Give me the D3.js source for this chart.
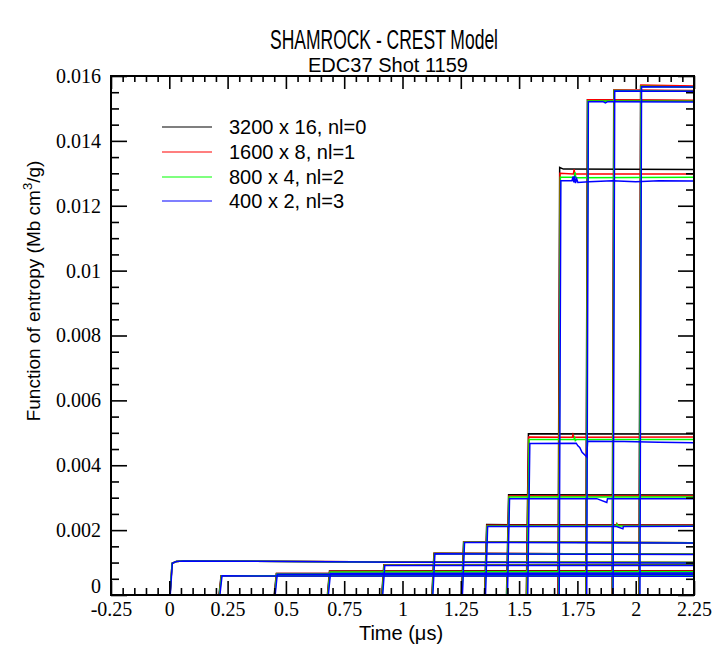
<!DOCTYPE html>
<html><head><meta charset="utf-8">
<script src="https://cdn.jsdelivr.net/npm/d3@7"></script>
<style>body{margin:0;background:#fff}svg{display:block}</style>
</head><body><svg id="c" width="716" height="645"></svg>
<script>
const titleText = "SHAMROCK - CREST Model";
const subtitleText = "EDC37 Shot 1159";
const xLabel = "Time (\u03bcs)";
const seriesLabels = ["3200 x 16, nl=0", "1600 x 8, nl=1", "800 x 4, nl=2", "400 x 2, nl=3"];
const seriesColors = ["#000000", "#ff0000", "#00ff00", "#0000ff"];
const xTicks = [-0.25, 0, 0.25, 0.5, 0.75, 1, 1.25, 1.5, 1.75, 2, 2.25];
const xTickLabels = ["-0.25", "0", "0.25", "0.5", "0.75", "1", "1.25", "1.5", "1.75", "2", "2.25"];
const yTicks = [0, 0.002, 0.004, 0.006, 0.008, 0.01, 0.012, 0.014, 0.016];
const yTickLabels = ["0", "0.002", "0.004", "0.006", "0.008", "0.01", "0.012", "0.014", "0.016"];

// each curve: [time (us), value] points
const curves3200 = [
  [[0,0],[0.003,0],[0.012,0.00098],[0.03,0.00103],[0.06,0.00105],[1.0,0.00102],[2.25,0.00100]],
  [[0,0],[0.213,0],[0.222,0.000595],[2.25,0.00059]],
  [[0,0],[0.450,0],[0.459,0.00066],[2.25,0.00066]],
  [[0,0],[0.678,0],[0.687,0.00074],[2.25,0.00075]],
  [[0,0],[0.911,0],[0.920,0.00093],[2.25,0.00093]],
  [[0,0],[1.126,0],[1.135,0.00129],[2.25,0.00126]],
  [[0,0],[1.253,0],[1.262,0.00164],[2.25,0.00161]],
  [[0,0],[1.352,0],[1.361,0.00217],[2.25,0.00216]],
  [[0,0],[1.446,0],[1.455,0.00309],[2.25,0.00308]],
  [[0,0],[1.531,0],[1.540,0.00497],[2.25,0.00496]],
  [[0,0],[1.667,0],[1.674,0.01318],[1.69,0.01313],[2.25,0.01312]],
  [[0,0],[1.786,0],[1.793,0.01527],[2.25,0.01524]],
  [[0,0],[1.899,0],[1.906,0.01556],[2.25,0.01554]],
  [[0,0],[2.014,0],[2.021,0.01569],[2.25,0.01567]]
];
const curves1600 = [
  [[0,0],[0.003,0],[0.012,0.00098],[0.03,0.00103],[0.06,0.00105],[1.0,0.00102],[2.25,0.00100]],
  [[0,0],[0.214,0],[0.223,0.000595],[2.25,0.00059]],
  [[0,0],[0.451,0],[0.460,0.00066],[2.25,0.00066]],
  [[0,0],[0.679,0],[0.688,0.00073],[2.25,0.00074]],
  [[0,0],[0.912,0],[0.921,0.00093],[2.25,0.00092]],
  [[0,0],[1.127,0],[1.136,0.00129],[2.25,0.00126]],
  [[0,0],[1.254,0],[1.263,0.00164],[2.25,0.00161]],
  [[0,0],[1.353,0],[1.362,0.00215],[1.916,0.00215],[1.919,0.00220],[1.922,0.00215],[2.25,0.00215]],
  [[0,0],[1.447,0],[1.456,0.00305],[2.25,0.00305]],
  [[0,0],[1.532,0],[1.541,0.00487],[1.728,0.00486],[1.731,0.00494],[1.734,0.00486],[2.25,0.00487]],
  [[0,0],[1.668,0],[1.675,0.01300],[1.733,0.01298],[1.736,0.01312],[1.739,0.01298],[2.25,0.01298]],
  [[0,0],[1.787,0],[1.794,0.01527],[2.25,0.01525]],
  [[0,0],[1.900,0],[1.907,0.01557],[2.25,0.01555]],
  [[0,0],[2.015,0],[2.022,0.01572],[2.25,0.01569]]
];
const curves800 = [
  [[0,0],[0.003,0],[0.012,0.00098],[0.03,0.00103],[0.06,0.00105],[1.0,0.00101],[2.25,0.00100]],
  [[0,0],[0.215,0],[0.224,0.000595],[2.25,0.00059]],
  [[0,0],[0.452,0],[0.461,0.00065],[2.25,0.00065]],
  [[0,0],[0.680,0],[0.689,0.00071],[2.25,0.00072]],
  [[0,0],[0.913,0],[0.922,0.00092],[2.25,0.00092]],
  [[0,0],[1.128,0],[1.137,0.00128],[2.25,0.00126]],
  [[0,0],[1.255,0],[1.264,0.00163],[2.25,0.00161]],
  [[0,0],[1.354,0],[1.363,0.00213],[1.917,0.00213],[1.920,0.00218],[1.923,0.00213],[2.25,0.00213]],
  [[0,0],[1.448,0],[1.457,0.00302],[2.25,0.00302]],
  [[0,0],[1.534,0],[1.543,0.00479],[1.735,0.00479],[1.738,0.00485],[1.741,0.00476],[1.745,0.00479],[2.25,0.00479]],
  [[0,0],[1.670,0],[1.677,0.01288],[1.737,0.01288],[1.740,0.01303],[1.743,0.01286],[2.25,0.01288]],
  [[0,0],[1.788,0],[1.795,0.01523],[2.25,0.01522]],
  [[0,0],[1.901,0],[1.908,0.01555],[2.25,0.01553]],
  [[0,0],[2.016,0],[2.023,0.01568],[2.25,0.01566]]
];
const curves400 = [
  [[0,0],[0.004,0],[0.013,0.00098],[0.03,0.00103],[0.06,0.00105],[1.0,0.00101],[2.25,0.00099]],
  [[0,0],[0.217,0],[0.226,0.00059],[2.25,0.00058]],
  [[0,0],[0.454,0],[0.463,0.00064],[2.25,0.00064]],
  [[0,0],[0.682,0],[0.691,0.00066],[2.25,0.00068]],
  [[0,0],[0.915,0],[0.924,0.00091],[2.25,0.00091]],
  [[0,0],[1.130,0],[1.139,0.00127],[2.25,0.00125]],
  [[0,0],[1.257,0],[1.266,0.00162],[2.25,0.00160]],
  [[0,0],[1.356,0],[1.365,0.00211],[1.918,0.00211],[1.945,0.00204],[1.947,0.00211],[2.25,0.00212]],
  [[0,0],[1.450,0],[1.459,0.00297],[1.833,0.00297],[1.876,0.00285],[1.879,0.00297],[2.25,0.00297]],
  [[0,0],[1.537,0],[1.546,0.00467],[1.745,0.00468],[1.752,0.00460],[1.760,0.00455],[1.770,0.00440],[1.790,0.00426],[1.794,0.00474],[1.95,0.00473],[2.1,0.00471],[2.25,0.00469]],
  [[0,0],[1.672,0],[1.679,0.01277],[1.727,0.01277],[1.731,0.01290],[1.735,0.01272],[1.738,0.01292],[1.742,0.01270],[1.747,0.01283],[1.752,0.01272],[1.80,0.01274],[1.9,0.01277],[2.0,0.01274],[2.1,0.01277],[2.25,0.01276]],
  [[0,0],[1.790,0],[1.797,0.01521],[1.86,0.01521],[1.87,0.01517],[1.88,0.01521],[2.25,0.01520]],
  [[0,0],[1.903,0],[1.910,0.01554],[2.25,0.01553]],
  [[0,0],[2.018,0],[2.025,0.01567],[2.25,0.01566]]
];
const allSeries = [curves3200, curves1600, curves800, curves400];

const SERIF = "'Liberation Serif', 'Times New Roman', 'DejaVu Serif', serif";
const SANS = "'Liberation Sans', Arial, sans-serif";

const svg = d3.select("#c");
const L = 111, R = 694, T = 76, B = 595;
const x = d3.scaleLinear().domain([-0.25, 2.25]).range([L, R]);
const y = d3.scaleLinear().domain([0, 0.016]).range([B, T]);

svg.append("defs").append("clipPath").attr("id", "clip")
  .append("rect").attr("x", L).attr("y", T).attr("width", R - L).attr("height", B - T);

// titles
svg.append("text").style("font-family", SANS).attr("x", 384).attr("y", 49).attr("text-anchor", "middle")
  .style("font-size", "27px").attr("textLength", 228).attr("lengthAdjust", "spacingAndGlyphs").text(titleText);
svg.append("text").style("font-family", SANS).attr("x", 388).attr("y", 72).attr("text-anchor", "middle")
  .style("font-size", "20px").attr("textLength", 160).attr("lengthAdjust", "spacingAndGlyphs").text(subtitleText);

// curves
const line = d3.line().x(d => x(d[0])).y(d => y(d[1]));
const g = svg.append("g").attr("clip-path", "url(#clip)");
allSeries.forEach((curves, i) => {
  g.selectAll(null).data(curves).enter().append("path")
    .attr("d", line).attr("fill", "none")
    .attr("stroke", seriesColors[i]).attr("stroke-width", 1.5);
});

// axes
const minorX = d3.range(-0.25, 2.2501, 0.05);
const minorY = d3.range(0, 0.01601, 0.0005);
const axG = svg.append("g");
const xMinorTicks = minorX.filter(v => !xTicks.some(t => Math.abs(t - v) < 1e-6));
const yMinorTicks = minorY.filter(v => !yTicks.some(t => Math.abs(t - v) < 1e-7));
const axBottom = d3.axisBottom(x).tickValues(xTicks).tickFormat((d, i) => xTickLabels[i]).tickSizeInner(-14).tickSizeOuter(0).tickPadding(7);
const axBottomMinor = d3.axisBottom(x).tickValues(xMinorTicks).tickFormat("").tickSizeInner(-7).tickSizeOuter(0);
const axTop = d3.axisTop(x).tickValues(xTicks).tickFormat("").tickSizeInner(-13).tickSizeOuter(0);
const axTopMinor = d3.axisTop(x).tickValues(xMinorTicks).tickFormat("").tickSizeInner(-6).tickSizeOuter(0);
const axLeft = d3.axisLeft(y).tickValues(yTicks).tickFormat((d, i) => yTickLabels[i]).tickSizeInner(-16).tickSizeOuter(0).tickPadding(10);
const axLeftMinor = d3.axisLeft(y).tickValues(yMinorTicks).tickFormat("").tickSizeInner(-8).tickSizeOuter(0);
const axRight = d3.axisRight(y).tickValues(yTicks).tickFormat("").tickSizeInner(-16).tickSizeOuter(0);
const axRightMinor = d3.axisRight(y).tickValues(yMinorTicks).tickFormat("").tickSizeInner(-8).tickSizeOuter(0);

function addAxis(ax, tr) {
  const a = axG.append("g").attr("transform", tr).call(ax);
  a.attr("font-family", SERIF).attr("font-size", 20);
  a.select(".domain").remove();
  a.selectAll(".tick line").attr("stroke", "#000").attr("stroke-width", 1.6);
  a.selectAll(".tick text").attr("font-family", SERIF).style("font-family", SERIF)
    .style("font-size", "20px").attr("fill", "#000");
  return a;
}
addAxis(axBottom, `translate(0,${B})`);
addAxis(axBottomMinor, `translate(0,${B})`);
addAxis(axTop, `translate(0,${T})`);
addAxis(axTopMinor, `translate(0,${T})`);
const leftAx = addAxis(axLeft, `translate(${L},0)`);
leftAx.selectAll(".tick text").filter(d => d === 0).attr("dy", "-0.12em");
addAxis(axLeftMinor, `translate(${L},0)`);
addAxis(axRight, `translate(${R},0)`);
addAxis(axRightMinor, `translate(${R},0)`);

axG.append("rect").attr("x", L).attr("y", T).attr("width", R - L).attr("height", B - T)
  .attr("fill", "none").attr("stroke", "#000").attr("stroke-width", 2);

// axis titles
svg.append("text").style("font-family", SANS).attr("x", 401).attr("y", 640).attr("text-anchor", "middle")
  .style("font-size", "20px").text(xLabel);
const yl = svg.append("text").style("font-family", SANS).attr("transform", "translate(40,291) rotate(-90)").attr("text-anchor", "middle")
  .style("font-size", "19px");
yl.append("tspan").text("Function of entropy (Mb cm");
yl.append("tspan").style("font-size", "13px").attr("dy", -8).text("3");
yl.append("tspan").attr("dy", 8).text("/g)");

// legend
const leg = svg.append("g");
const legY = [127, 152, 177, 201];
seriesLabels.forEach((s, i) => {
  leg.append("line").attr("x1", 162).attr("x2", 212).attr("y1", legY[i]).attr("y2", legY[i])
    .attr("stroke", seriesColors[i]).attr("stroke-width", 1.1);
  leg.append("text").style("font-family", SANS).attr("x", 229).attr("y", legY[i]).attr("dy", "0.36em")
    .style("font-size", "20px").text(s);
});
</script></body></html>
